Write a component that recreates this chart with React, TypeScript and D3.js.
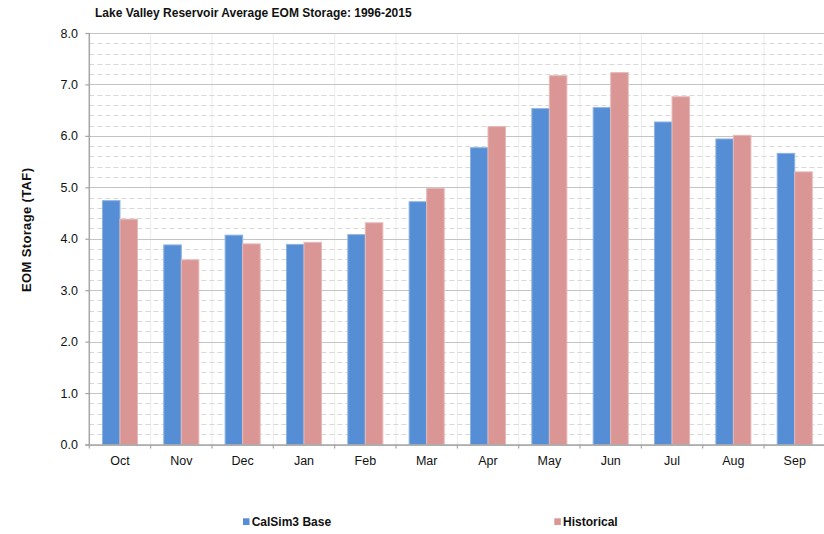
import React from "react";
import * as d3 from "d3";

const months = ["Oct", "Nov", "Dec", "Jan", "Feb", "Mar", "Apr", "May", "Jun", "Jul", "Aug", "Sep"];
const calsimBase = [4.74, 3.88, 4.07, 3.89, 4.08, 4.72, 5.77, 6.53, 6.55, 6.27, 5.94, 5.66];
const historical = [4.38, 3.59, 3.90, 3.93, 4.31, 4.98, 6.18, 7.17, 7.23, 6.76, 6.01, 5.30];
const seriesNames = ["CalSim3 Base", "Historical"];
const seriesColors = ["#558ED5", "#D99694"];
const seriesStroke = ["#8DB3E2", "#E6B9B8"];
const yMajorTicks = [0, 1, 2, 3, 4, 5, 6, 7, 8];

const W = 824;
const H = 534;
const margin = { left: 89.3, right: -1.4, top: 33, bottom: 89.5 };

export default function App() {
  const x = d3
    .scaleBand<string>()
    .domain(months)
    .range([margin.left, W - margin.right])
    .paddingInner(0)
    .paddingOuter(0);
  const y = d3.scaleLinear().domain([0, 8]).range([H - margin.bottom, margin.top]);
  const inner = d3
    .scaleBand<number>()
    .domain([0, 1])
    .range([0, x.bandwidth()])
    .paddingOuter(0.75)
    .paddingInner(0);

  const minorTicks = d3.range(0, 8.001, 0.2).filter((v) => Math.abs(v - Math.round(v)) > 0.01);
  const boundaries = months.map((m) => x(m) as number).concat([W - margin.right]);
  const x0 = margin.left;
  const y0 = y(0);
  const font = "'Liberation Sans', Arial, sans-serif";

  return (
    <div style={{ position: "fixed", left: 0, top: 0 }}>
      <svg width={W} height={H} style={{ display: "block", background: "#fff" }} fontFamily={font}>
        <rect x={0} y={0} width={W} height={H} fill="#fff" />
        {/* vertical grid at category boundaries */}
        {boundaries.slice(1).map((bx, i) => (
          <line key={"vg" + i} x1={bx} x2={bx} y1={y(8)} y2={y0} stroke="#ececec" strokeWidth={1} />
        ))}
        {/* minor dashed grid */}
        {minorTicks.map((v, i) => (
          <line
            key={"mg" + i}
            x1={x0}
            x2={W}
            y1={Math.round(y(v)) + 0.5}
            y2={Math.round(y(v)) + 0.5}
            stroke="#d8d8d8"
            strokeDasharray="5,3"
            strokeWidth={1}
          />
        ))}
        {/* major grid */}
        {yMajorTicks.map((v) => (
          <line
            key={"g" + v}
            x1={x0}
            x2={W}
            y1={Math.round(y(v)) + 0.5}
            y2={Math.round(y(v)) + 0.5}
            stroke="#c4c4c4"
            strokeWidth={1.2}
          />
        ))}
        {/* bars */}
        {months.map((m, i) =>
          [calsimBase[i], historical[i]].map((v, s) => (
            <rect
              key={m + s}
              x={(x(m) as number) + (inner(s) as number)}
              y={y(v)}
              width={inner.bandwidth()}
              height={y0 - y(v)}
              fill={seriesColors[s]}
              stroke={seriesStroke[s]}
              strokeWidth={1}
            />
          ))
        )}
        {/* axes */}
        <line x1={x0} x2={x0} y1={y(8)} y2={y0 + 1} stroke="#a6a6a6" strokeWidth={1.5} />
        <line x1={x0 - 4} x2={W} y1={y0 + 0.5} y2={y0 + 0.5} stroke="#a6a6a6" strokeWidth={1.5} />
        {yMajorTicks.map((v) => (
          <g key={"yt" + v}>
            <line x1={x0 - 4} x2={x0} y1={y(v) + 0.5} y2={y(v) + 0.5} stroke="#a6a6a6" strokeWidth={1.2} />
            <text x={78} y={y(v) + 4.5} textAnchor="end" fontSize={12.5} fill="#111">
              {v.toFixed(1)}
            </text>
          </g>
        ))}
        {boundaries.map((bx, i) => (
          <line key={"xt" + i} x1={bx} x2={bx} y1={y0} y2={y0 + 4} stroke="#a6a6a6" strokeWidth={1.2} />
        ))}
        {months.map((m) => (
          <text
            key={"xl" + m}
            x={(x(m) as number) + x.bandwidth() / 2}
            y={465}
            textAnchor="middle"
            fontSize={12.5}
            fill="#111"
          >
            {m}
          </text>
        ))}
        {/* titles */}
        <text x={95} y={17} fontSize={12} fontWeight="bold" fill="#111">
          Lake Valley Reservoir Average EOM Storage: 1996-2015
        </text>
        <text
          transform={`translate(31,230) rotate(-90)`}
          textAnchor="middle"
          fontSize={13}
          fontWeight="bold"
          fill="#111"
          textLength={124}
          lengthAdjust="spacing"
        >
          EOM Storage (TAF)
        </text>
        {/* legend */}
        {seriesNames.map((name, s) => {
          const lx = s === 0 ? 243 : 554.3;
          return (
            <g key={"lg" + s}>
              <rect x={lx} y={518.3} width={6.5} height={6.7} fill={seriesColors[s]} />
              <text x={lx + 8.7} y={526} fontSize={12} fontWeight="bold" fill="#111">
                {name}
              </text>
            </g>
          );
        })}
      </svg>
    </div>
  );
}
